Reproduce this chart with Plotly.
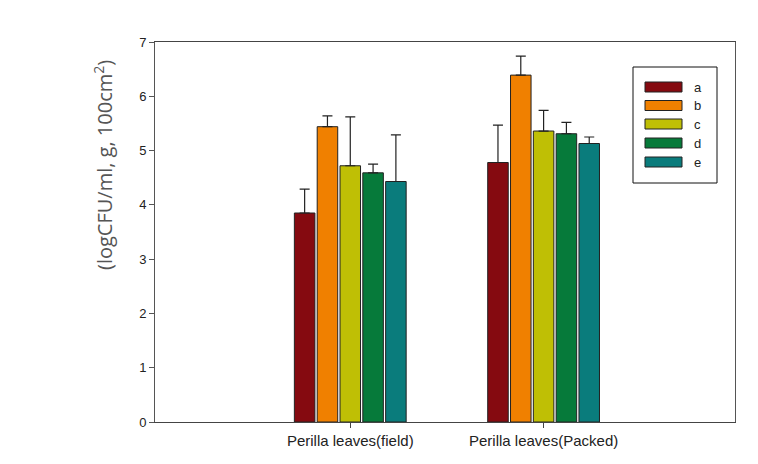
import plotly.graph_objects as go

categories = ["Perilla leaves(field)", "Perilla leaves(Packed)"]
series_names = ["a", "b", "c", "d", "e"]
values = {
    "a": [3.85, 4.78],
    "b": [5.44, 6.39],
    "c": [4.72, 5.36],
    "d": [4.59, 5.31],
    "e": [4.43, 5.13],
}
errors = {
    "a": [0.44, 0.69],
    "b": [0.20, 0.35],
    "c": [0.90, 0.38],
    "d": [0.16, 0.21],
    "e": [0.86, 0.12],
}
colors = ["#850A10", "#F08000", "#BFBF05", "#067A3A", "#0A7C7C"]
y_ticks = [0, 1, 2, 3, 4, 5, 6, 7]

# page has an 8px body margin; figure placed so the plot lands where the reference has it
OFF = 8
W, H = 758 - OFF, 464 - OFF
L, R, T, B = 155 - OFF, 23, 42 - OFF, 42
PW, PH = W - L - R, H - T - B

def px(x):
    return (x - OFF - L) / PW

def py(y):
    return (H + OFF - B - y) / PH

fig = go.Figure()
for name, col in zip(series_names, colors):
    fig.add_trace(go.Bar(
        name=name, x=categories, y=values[name],
        marker=dict(color=col, line=dict(color="#222222", width=1)),
        error_y=dict(type="data", array=errors[name], symmetric=False,
                     arrayminus=[0] * len(categories),
                     color="#222222", thickness=1.2, width=5),
        showlegend=False,
    ))

# custom legend (box, swatches, labels)
shapes = [dict(type="rect", xref="paper", yref="paper",
               x0=px(633), x1=px(717), y0=py(183), y1=py(67),
               line=dict(color="#111111", width=1), fillcolor="white")]
annotations = []
row_y = [87, 105.5, 124, 143, 162]
for name, col, yy in zip(series_names, colors, row_y):
    shapes.append(dict(type="rect", xref="paper", yref="paper",
                       x0=px(645), x1=px(682), y0=py(yy + 5), y1=py(yy - 5),
                       line=dict(color="#222222", width=1), fillcolor=col))
    annotations.append(dict(text=name, xref="paper", yref="paper",
                            x=px(692), y=py(yy), xanchor="left", yanchor="middle",
                            showarrow=False,
                            font=dict(family="Liberation Sans", size=13, color="#222222")))

annotations.append(dict(text="(logCFU/ml, g, 100cm<sup>2</sup>)", xref="paper", yref="paper",
                        x=px(103), y=py(165), textangle=-90, showarrow=False,
                        xanchor="center", yanchor="middle",
                        font=dict(family="Open Sans", size=20, color="#555555")))

fig.update_layout(
    width=W, height=H,
    margin=dict(l=L, r=R, t=T, b=B, pad=0),
    paper_bgcolor="white", plot_bgcolor="white",
    barmode="group", bargap=0.41, bargroupgap=0.1,
    shapes=shapes, annotations=annotations,
    font=dict(family="Liberation Sans", size=12, color="#222222"),
)
fig.update_xaxes(
    range=[-1.01, 1.99], showline=True, linecolor="#444444", linewidth=1,
    mirror=True, ticks="outside", ticklen=5, tickcolor="#444444",
    showgrid=False, zeroline=False,
    tickfont=dict(family="Liberation Sans", size=15, color="#222222"),
)
fig.update_yaxes(
    range=[0, 7], tickvals=y_ticks, showline=True, linecolor="#555555",
    linewidth=1, mirror=True, ticks="outside", ticklen=5, tickcolor="#555555",
    showgrid=False, zeroline=False,
    tickfont=dict(family="Liberation Sans", size=13, color="#222222"),
)

fig.write_html("out.html")
